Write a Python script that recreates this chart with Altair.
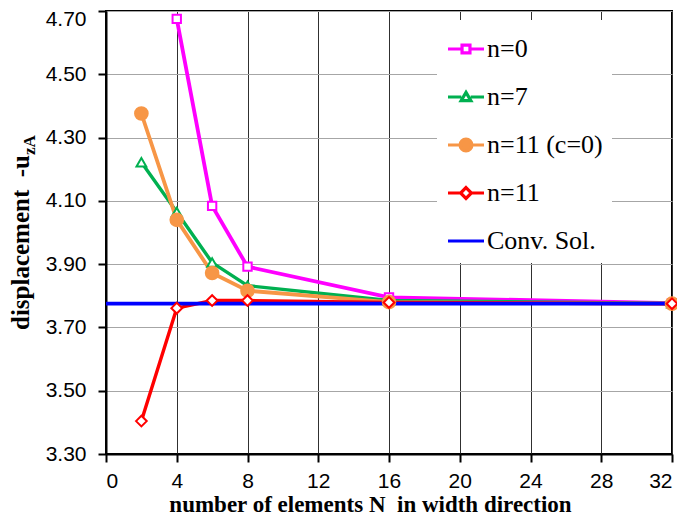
import altair as alt
import pandas as pd

# ---- data ----
N_n0 = [4, 6, 8, 16, 32]
u_n0 = [4.675, 4.084, 3.892, 3.795, 3.777]
N_n7 = [2, 4, 6, 8, 16, 32]
u_n7 = [4.222, 4.065, 3.905, 3.832, 3.785, 3.776]
N_n11c = [2, 4, 6, 8, 16, 32]
u_n11c = [4.376, 4.040, 3.872, 3.816, 3.780, 3.775]
N_n11 = [2, 4, 6, 8, 16, 32]
u_n11 = [3.404, 3.761, 3.785, 3.785, 3.779, 3.775]
N_conv = [0, 32]
u_conv = [3.775, 3.775]

series_names = ["n=0", "n=7", "n=11 (c=0)", "n=11", "Conv. Sol."]
colors = ["#FF00FF", "#00B050", "#F79646", "#FF0000", "#0000FF"]
x_ticks = [0, 4, 8, 12, 16, 20, 24, 28, 32]
y_ticks = [3.3, 3.5, 3.7, 3.9, 4.1, 4.3, 4.5, 4.7]

# ---- tables ----
def table(xs, ys, name):
    return pd.DataFrame({"N": xs, "u": ys, "series": [name] * len(xs)})

df_n0 = table(N_n0, u_n0, "n=0")
df_n7 = table(N_n7, u_n7, "n=7")
df_n11c = table(N_n11c, u_n11c, "n=11 (c=0)")
df_n11 = table(N_n11, u_n11, "n=11")
df_conv = table(N_conv, u_conv, "Conv. Sol.")
df_names = pd.DataFrame({"series": series_names})

x_enc = alt.X("N:Q", scale=alt.Scale(domain=[0, 32], nice=False, zero=False),
              axis=alt.Axis(values=x_ticks, grid=True, gridColor="#303030", gridWidth=1,
                            title="number of elements N\u00a0 in width direction",
                            titleFont="Liberation Serif", titleFontWeight="bold",
                            titleFontSize=23, titleColor="black",
                            titleX=264, titleY=57, titleBaseline="alphabetic",
                            titleAlign="center", labelPadding=8))
y_enc = alt.Y("u:Q", scale=alt.Scale(domain=[3.3, 4.7], nice=False, zero=False),
              axis=alt.Axis(values=y_ticks, format=".2f", grid=True, gridColor="#A6A6A6",
                            gridWidth=1, title=None, labelPadding=12,
                            labelOffset={"condition": {"test": "datum.value > 4.6", "value": 8},
                                         "value": 0}))

def line(df, color, width=3.8):
    return alt.Chart(df).mark_line(color=color, strokeWidth=width).encode(x=x_enc, y=y_enc)

def pts(df, shape, color, fill, size):
    return alt.Chart(df).mark_point(shape=shape, filled=True, fill=fill, stroke=color,
                                    strokeWidth=2, size=size, opacity=1).encode(x=x_enc, y=y_enc)

l_n0 = line(df_n0, "#FF00FF")
l_n7 = line(df_n7, "#00B050", 3.4)
l_n11c = line(df_n11c, "#F79646")
l_n11 = line(df_n11, "#FF0000", 3.4)
l_conv = line(df_conv, "#0000FF", 3.8)

p_n0 = pts(df_n0, "square", "#FF00FF", "white", 70)
p_n7 = pts(df_n7, "triangle-up", "#00B050", "white", 95)
p_n11c = pts(df_n11c, "circle", "#F79646", "#F79646", 160)
p_n11 = pts(df_n11, "diamond", "#FF0000", "white", 115)

# legend: line + marker symbols as custom paths
legend_paths = [
    "M-1,0H-0.22M0.22,0H1M-0.22,-0.22H0.22V0.22H-0.22Z",
    "M-1,0H-0.26M0.26,0H1M0,-0.26L0.27,0.2L-0.27,0.2Z",
    "M-1,0H1M0.33,0A0.33,0.33,0,1,1,-0.33,0A0.33,0.33,0,1,1,0.33,0Z",
    "M-1,0H-0.3M0.3,0H1M0,-0.3L0.3,0L0,0.3L-0.3,0Z",
    "M-1,0H1",
]
legend_fills = ["white", "white", "#F79646", "white", "white"]
leg = alt.Legend(title=None, orient="none", legendX=331, legendY=9, fillColor="white",
                 padding=9, symbolSize=1296, symbolStrokeWidth=3.2,
                 labelFont="Liberation Serif", labelFontSize=26, labelColor="black",
                 rowPadding=15, labelOffset=1, labelLimit=400)
legend_layer = alt.Chart(df_names).transform_filter("false").mark_point(
    filled=True, size=1296, strokeWidth=3.2, opacity=1
).encode(
    shape=alt.Shape("series:N", scale=alt.Scale(domain=series_names, range=legend_paths), legend=leg),
    stroke=alt.Stroke("series:N", scale=alt.Scale(domain=series_names, range=colors), legend=leg),
    fill=alt.Fill("series:N", scale=alt.Scale(domain=series_names, range=legend_fills), legend=leg),
)

# y-axis title with subscript
ytitle_main = alt.Chart(pd.DataFrame({"t": ["displacement\u00a0\u00a0-u"]})).mark_text(
    angle=270, align="right", baseline="alphabetic", font="Liberation Serif",
    fontWeight="bold", fontSize=25, color="black"
).encode(text="t:N", x=alt.value(-77), y=alt.value(144))
ytitle_sub = alt.Chart(pd.DataFrame({"t": ["zA"]})).mark_text(
    angle=270, align="left", baseline="alphabetic", font="Liberation Serif",
    fontWeight="bold", fontSize=17, color="black"
).encode(text="t:N", x=alt.value(-71), y=alt.value(144))

chart = alt.layer(
    l_n0, l_n7, l_n11c, l_n11, l_conv, p_n0, p_n7, p_n11c, p_n11,
    legend_layer, ytitle_main, ytitle_sub
).properties(
    width=566, height=443,
    autosize=alt.AutoSizeParams(type="none"),
    padding={"left": 98, "top": 3, "right": 5, "bottom": 64},
    background="white",
).configure_view(
    stroke="black", strokeWidth=2
).configure_axis(
    domainColor="black", domainWidth=2, tickColor="black", tickWidth=2, tickSize=8,
    labelFont="Liberation Sans", labelFontSize=21, labelColor="black",
)

chart.save("out.html", embed_options={"renderer": "svg", "actions": False})
